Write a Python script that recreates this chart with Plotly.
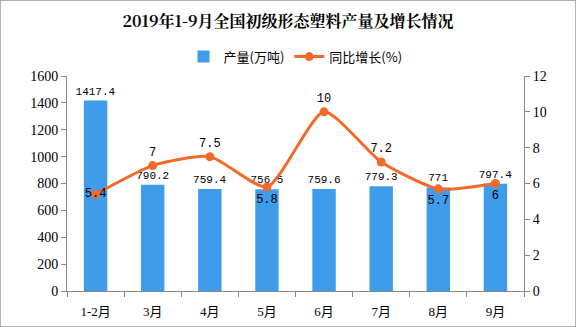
import plotly.graph_objects as go

categories = ["1-2月", "3月", "4月", "5月", "6月", "7月", "8月", "9月"]
output = [1417.4, 790.2, 759.4, 756.5, 759.6, 779.3, 771, 797.4]
growth = [5.4, 7, 7.5, 5.8, 10, 7.2, 5.7, 6]
growth_pos = ["middle center", "top center", "top center", "bottom center",
              "top center", "top center", "bottom center", "bottom center"]

tick_fam = "Liberation Serif, Noto Sans CJK SC"
lab_fam = "Liberation Mono, Noto Sans CJK SC"
fig = go.Figure()
fig.add_trace(go.Bar(
    x=categories, y=output, name="产量(万吨)",
    marker=dict(color="#3f9cea", line=dict(width=0)), width=0.41,
    text=[f"{v:g}" for v in output], textposition="outside",
    constraintext="none",
    textfont=dict(size=11, color="#000", family=lab_fam), cliponaxis=False,
))
fig.add_trace(go.Scatter(
    x=categories, y=growth, name="同比增长(%)", yaxis="y2",
    mode="lines+markers+text",
    line=dict(color="#f26a2a", width=3, shape="spline", smoothing=0.6),
    marker=dict(color="#f26a2a", size=9),
    text=[f"{v:g}" for v in growth], textposition=growth_pos,
    textfont=dict(size=12, color="#000", family=lab_fam), cliponaxis=False,
))
fig.update_layout(
    width=576, height=327,
    margin=dict(l=67, r=52, t=76, b=36),
    paper_bgcolor="white", plot_bgcolor="white",
    title=dict(text="<b>2019年1-9月全国初级形态塑料产量及增长情况</b>",
               x=0.5, xanchor="center", y=0.935, yanchor="middle",
               font=dict(size=16, color="#000", family="Noto Serif CJK SC, Noto Sans CJK SC")),
    legend=dict(orientation="h", x=0.5, xanchor="center", y=1.09, yanchor="middle",
                font=dict(size=13, color="#000", family="Noto Sans CJK SC"),
                bgcolor="rgba(0,0,0,0)"),
    showlegend=True,
    xaxis=dict(showline=True, linecolor="#888", ticks="outside", tickcolor="#888",
               ticklen=5, tickson="boundaries", showgrid=False, ticklabelstandoff=8,
               automargin=False,
               tickfont=dict(size=13, color="#000", family=tick_fam)),
    yaxis=dict(range=[0, 1600], dtick=200, showline=True, linecolor="#888",
               ticks="outside", tickcolor="#888", ticklen=5, showgrid=False,
               zeroline=False, automargin=False,
               tickfont=dict(size=14, color="#000", family=tick_fam)),
    yaxis2=dict(range=[0, 12], dtick=2, overlaying="y", side="right",
                showline=True, linecolor="#888", ticks="outside", tickcolor="#888",
                ticklen=5, showgrid=False, zeroline=False, automargin=False,
                tickfont=dict(size=14, color="#000", family=tick_fam)),
)
fig.add_shape(type="rect", xref="paper", yref="paper", x0=-67/457, x1=1+52/457,
              y0=-36/215, y1=1+76/215, line=dict(color="#999", width=1.5))
fig.write_html("out.html")
